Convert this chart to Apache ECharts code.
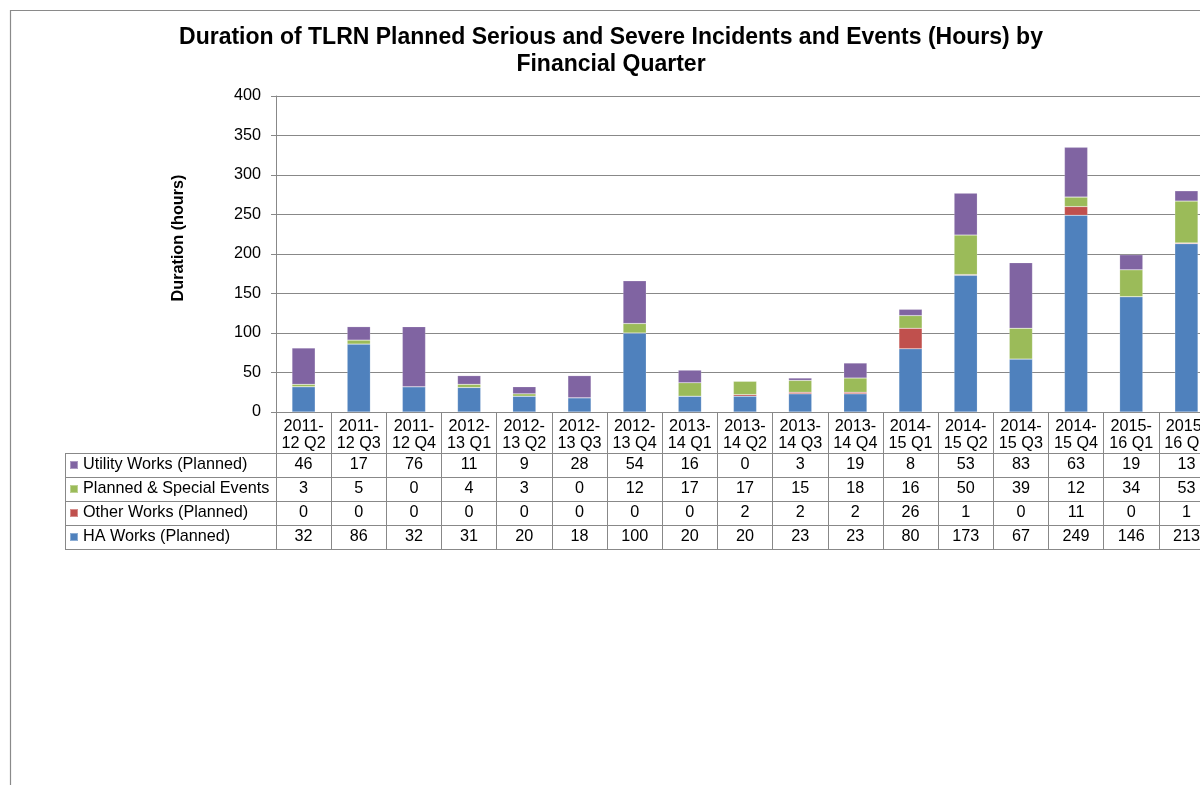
<!DOCTYPE html>
<html>
<head>
<meta charset="utf-8">
<script src="https://cdn.jsdelivr.net/npm/echarts@6/dist/echarts.min.js"></script>
<style>
  html, body { margin: 0; padding: 0; background: #fff; overflow: hidden; }
  /* the chart is wider than the window: its right edge is cut off like in the source */
  #chart { width: 1260px; height: 785px; }
</style>
</head>
<body>
<div id="chart"></div>
<script>
// quarters shown along the axis (the last one is cut off at the right edge)
var quarters = ['2011-12 Q2', '2011-12 Q3', '2011-12 Q4', '2012-13 Q1', '2012-13 Q2', '2012-13 Q3',
    '2012-13 Q4', '2013-14 Q1', '2013-14 Q2', '2013-14 Q3', '2013-14 Q4', '2014-15 Q1',
    '2014-15 Q2', '2014-15 Q3', '2014-15 Q4', '2015-16 Q1', '2015-16 Q2'];

var utilityWorks = [46, 17, 76, 11, 9, 28, 54, 16, 0, 3, 19, 8, 53, 83, 63, 19, 13];
var plannedEvents = [3, 5, 0, 4, 3, 0, 12, 17, 17, 15, 18, 16, 50, 39, 12, 34, 53];
var otherWorks = [0, 0, 0, 0, 0, 0, 0, 0, 2, 2, 2, 26, 1, 0, 11, 0, 1];
var haWorks = [32, 86, 32, 31, 20, 18, 100, 20, 20, 23, 23, 80, 173, 67, 249, 146, 213];

var yTicks = [0, 50, 100, 150, 200, 250, 300, 350, 400];

var names = {
    utility: 'Utility Works (Planned)',
    planned: 'Planned & Special Events',
    other: 'Other Works (Planned)',
    ha: 'HA Works (Planned)'
};
var colors = {
    utility: '#8064A2',
    planned: '#9BBB59',
    other: '#C0504D',
    ha: '#4F81BD'
};

var font = 'Liberation Sans, Arial, sans-serif';
var fs = 16.2;
var gridGray = '#888888';

var chart = echarts.init(document.getElementById('chart'));

// one extra x axis per table row, it draws the row's top line and its values
function rowAxis(values, offset, showLabels) {
    return {
        type: 'category',
        gridIndex: 0,
        position: 'bottom',
        offset: offset,
        data: values.map(String),
        axisLine: { show: true, lineStyle: { color: gridGray, width: 1 } },
        axisTick: { show: false },
        splitLine: { show: false },
        axisLabel: {
            show: showLabels,
            interval: 0,
            margin: 4,
            fontFamily: font,
            fontSize: fs,
            color: '#000'
        }
    };
}

function barSeries(key, data) {
    return {
        name: names[key],
        type: 'bar',
        stack: 'total',
        xAxisIndex: 0,
        data: data,
        barWidth: '42%',
        itemStyle: {
            color: colors[key],
            borderColor: 'rgba(255,255,255,0.35)',
            borderWidth: 0.5
        },
        emphasis: { disabled: true }
    };
}

// left column of the data table
var tableRows = [453, 477, 501, 525, 549];
var frame = tableRows.map(function (y) {
    return {
        type: 'line',
        shape: { x1: 65, y1: y + 0.5, x2: 277, y2: y + 0.5 },
        style: { stroke: gridGray, lineWidth: 1 },
        silent: true
    };
});
frame.push({
    type: 'line',
    shape: { x1: 65.5, y1: 453, x2: 65.5, y2: 550 },
    style: { stroke: gridGray, lineWidth: 1 },
    silent: true
});
frame.push({
    type: 'rect',
    shape: { x: 10.5, y: 10.5, width: 1300, height: 900 },
    style: { fill: null, stroke: '#8a8a8a', lineWidth: 1.2 },
    silent: true
});

chart.setOption({
    animation: false,
    backgroundColor: '#fff',
    title: {
        text: 'Duration of TLRN Planned Serious and Severe Incidents and Events (Hours) by\nFinancial Quarter',
        left: 611,
        top: 24,
        textAlign: 'center',
        padding: 0,
        textStyle: {
            fontFamily: font,
            fontSize: 23,
            fontWeight: 'bold',
            color: '#000',
            lineHeight: 27
        }
    },
    legend: {
        orient: 'vertical',
        left: 69,
        top: 456,
        padding: 0,
        itemWidth: 8,
        itemHeight: 8,
        itemGap: 6,
        icon: 'rect',
        selectedMode: false,
        data: [names.utility, names.planned, names.other, names.ha],
        textStyle: {
            fontFamily: font,
            fontSize: fs,
            lineHeight: 18,
            color: '#000'
        }
    },
    grid: {
        left: 276,
        right: 46,
        top: 96,
        bottom: 373,
        containLabel: false
    },
    xAxis: [
        {
            type: 'category',
            data: quarters,
            position: 'bottom',
            axisLine: { show: true, lineStyle: { color: gridGray, width: 1 } },
            axisTick: {
                show: true,
                interval: 0,
                length: 137,
                lineStyle: { color: gridGray, width: 1 }
            },
            axisLabel: {
                interval: 0,
                margin: 6,
                fontFamily: font,
                fontSize: fs,
                lineHeight: 17,
                color: '#000',
                formatter: function (v) { return v.replace('-', '-\n'); }
            }
        },
        rowAxis(utilityWorks, 41, true),
        rowAxis(plannedEvents, 65, true),
        rowAxis(otherWorks, 89, true),
        rowAxis(haWorks, 113, true),
        rowAxis(quarters, 137, false)
    ],
    yAxis: {
        type: 'value',
        min: yTicks[0],
        max: yTicks[yTicks.length - 1],
        interval: yTicks[1] - yTicks[0],
        name: 'Duration (hours)',
        nameLocation: 'middle',
        nameRotate: 90,
        nameGap: 89,
        nameTextStyle: {
            fontFamily: font,
            fontSize: fs,
            fontWeight: 'bold',
            color: '#000',
            padding: [0, 0, 0, 32]
        },
        axisLine: { show: true, lineStyle: { color: gridGray, width: 1 } },
        axisTick: { show: true, length: 5, lineStyle: { color: gridGray } },
        axisLabel: {
            margin: 15,
            fontFamily: font,
            fontSize: fs,
            color: '#000'
        },
        splitLine: { show: true, lineStyle: { color: gridGray, width: 1 } }
    },
    graphic: frame,
    series: [
        barSeries('ha', haWorks),
        barSeries('other', otherWorks),
        barSeries('planned', plannedEvents),
        barSeries('utility', utilityWorks)
    ]
});
</script>
</body>
</html>
